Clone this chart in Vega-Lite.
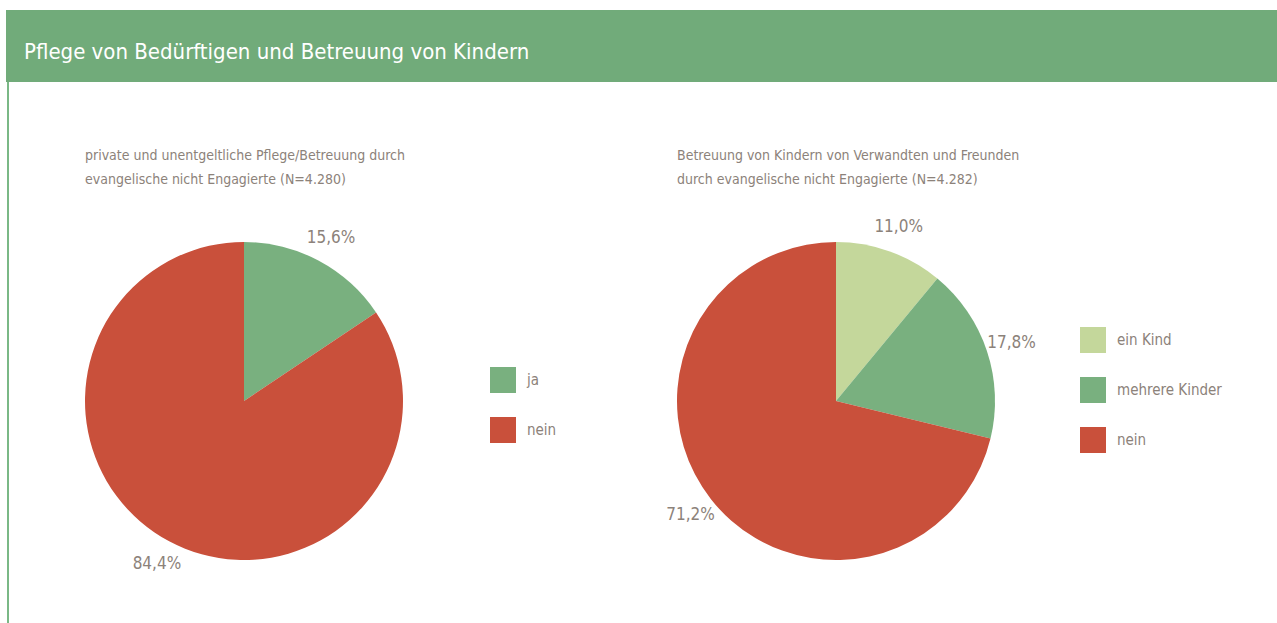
{
  "$schema": "https://vega.github.io/schema/vega-lite/v6.json",
  "padding": {"left": 6, "top": 10, "right": 0, "bottom": 0},
  "background": "white",
  "bounds": "flush",
  "spacing": 160,
  "config": {
    "view": {"stroke": null},
    "font": "DejaVu Sans Condensed, Roboto, sans-serif",
    "title": {"font": "DejaVu Sans Condensed, Roboto, sans-serif", "fontWeight": "normal", "color": "#8c827a", "fontSize": 14, "lineHeight": 24, "anchor": "start", "frame": "group"},
    "legend": {
      "labelFont": "DejaVu Sans Condensed, Roboto, sans-serif", "labelFontSize": 15, "labelColor": "#8c827a",
      "symbolType": "square", "symbolSize": 676, "symbolStrokeWidth": 0, "symbolOpacity": 1,
      "rowPadding": 24, "labelOffset": 11, "padding": 0
    }
  },
  "vconcat": [
    {
      "width": 1271,
      "height": 72,
      "view": {"fill": "#71ab7a", "stroke": null},
      "data": {"values": [{"heading": "Pflege von Bedürftigen und Betreuung von Kindern"}]},
      "layer": [
        {
          "mark": {"type": "text", "align": "left", "baseline": "alphabetic", "x": 18, "y": 49, "fontSize": 22, "color": "white", "font": "DejaVu Sans Condensed, Roboto, sans-serif"},
          "encoding": {"text": {"field": "heading", "type": "nominal"}}
        },
        {
          "mark": {"type": "rect", "x": 1, "x2": 3, "y": 72, "y2": 613, "color": "#7ab886"},
          "encoding": {}
        }
      ]
    },
    {
      "hconcat": [
        {
          "width": 476,
          "height": 318,
          "title": {"text": ["private und unentgeltliche Pflege/Betreuung durch", "evangelische nicht Engagierte (N=4.280)"], "dx": 79, "offset": 42},
          "data": {"values": [
            {"idx": 1, "category": "ja", "value": 15.6, "label": "15,6%"},
            {"idx": 2, "category": "nein", "value": 84.4, "label": "84,4%"}
          ]},
          "encoding": {
            "theta": {"field": "value", "type": "quantitative", "stack": true},
            "order": {"field": "idx", "type": "quantitative"}
          },
          "layer": [
            {
              "mark": {"type": "arc", "strokeWidth": 0},
              "encoding": {
                "color": {"field": "category", "type": "nominal",
                  "scale": {"domain": ["ja", "nein"], "range": ["#79b07f", "#c9503b"]},
                  "legend": {"title": null, "orient": "none", "legendX": 484, "legendY": 125}}
              }
            },
            {
              "mark": {"type": "text", "radius": 185, "fontSize": 17, "color": "#8c827a"},
              "encoding": {"text": {"field": "label", "type": "nominal"}}
            }
          ]
        },
        {
          "width": 476,
          "height": 318,
          "title": {"text": ["Betreuung von Kindern von Verwandten und Freunden", "durch evangelische nicht Engagierte (N=4.282)"], "dx": 79, "offset": 31},
          "data": {"values": [
            {"idx": 1, "category": "ein Kind", "value": 11.0, "label": "11,0%"},
            {"idx": 2, "category": "mehrere Kinder", "value": 17.8, "label": "17,8%"},
            {"idx": 3, "category": "nein", "value": 71.2, "label": "71,2%"}
          ]},
          "encoding": {
            "theta": {"field": "value", "type": "quantitative", "stack": true},
            "order": {"field": "idx", "type": "quantitative"}
          },
          "layer": [
            {
              "mark": {"type": "arc", "strokeWidth": 0},
              "encoding": {
                "color": {"field": "category", "type": "nominal",
                  "scale": {"domain": ["ein Kind", "mehrere Kinder", "nein"], "range": ["#c4d79b", "#79b07f", "#c9503b"]},
                  "legend": {"title": null, "orient": "none", "legendX": 482, "legendY": 85}}
              }
            },
            {
              "mark": {"type": "text", "radius": 185, "fontSize": 17, "color": "#8c827a"},
              "encoding": {"text": {"field": "label", "type": "nominal"}}
            }
          ]
        }
      ],
      "spacing": 116,
      "bounds": "flush",
      "resolve": {"scale": {"color": "independent"}}
    }
  ]
}
